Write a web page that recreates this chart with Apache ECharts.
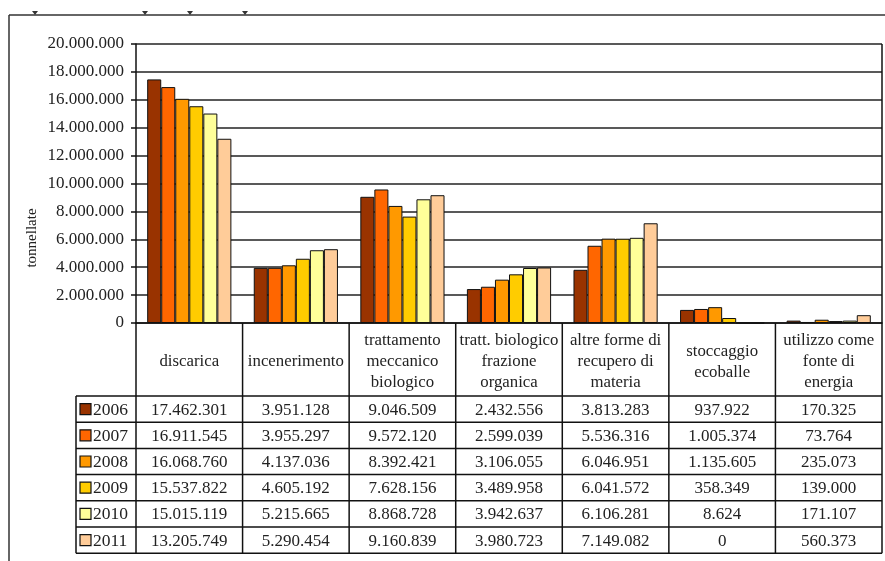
<!DOCTYPE html>
<html>
<head>
<meta charset="utf-8">
<script src="https://cdn.jsdelivr.net/npm/echarts@6/dist/echarts.min.js"></script>
<style>
  html, body { margin: 0; padding: 0; background: #fff; }
  #chart { width: 885px; height: 561px; }
</style>
</head>
<body>
<div id="chart"></div>
<script>
// Rifiuti urbani gestiti per forma di trattamento (tonnellate)
const categories = [
  'discarica',
  'incenerimento',
  'trattamento\nmeccanico\nbiologico',
  'tratt. biologico\nfrazione\norganica',
  'altre forme di\nrecupero di\nmateria',
  'stoccaggio\necoballe',
  'utilizzo come\nfonte di\nenergia'
];
const years = ['2006', '2007', '2008', '2009', '2010', '2011'];
const v2006 = [17462301, 3951128, 9046509, 2432556, 3813283, 937922, 170325];
const v2007 = [16911545, 3955297, 9572120, 2599039, 5536316, 1005374, 73764];
const v2008 = [16068760, 4137036, 8392421, 3106055, 6046951, 1135605, 235073];
const v2009 = [15537822, 4605192, 7628156, 3489958, 6041572, 358349, 139000];
const v2010 = [15015119, 5215665, 8868728, 3942637, 6106281, 8624, 171107];
const v2011 = [13205749, 5290454, 9160839, 3980723, 7149082, 0, 560373];
const yTicks = [0, 2000000, 4000000, 6000000, 8000000, 10000000, 12000000, 14000000, 16000000, 18000000, 20000000];

const seriesValues = [v2006, v2007, v2008, v2009, v2010, v2011];
const colors = ['#993300', '#FF6600', '#FF9900', '#FFCC00', '#FFFF99', '#FFCC99'];

const FONT = '"Liberation Serif", "Times New Roman", serif';
const TXT = '#222';

// layout of plot and data table
const W = 885;
const plotLeft = 136, plotRight = 882, plotTop = 44, plotBottom = 323;
const tableLeft = 76;
const headerBottom = 396;
const rowH = 26.2;

function fmt(v) {
  return String(v).replace(/\B(?=(\d{3})+(?!\d))/g, '.');
}

const chart = echarts.init(document.getElementById('chart'), null, { renderer: 'canvas' });

const option = {
  animation: false,
  backgroundColor: '#fff',
  grid: {
    left: plotLeft,
    right: W - plotRight,
    top: plotTop,
    bottom: 561 - plotBottom,
    containLabel: false
  },
  xAxis: {
    type: 'category',
    data: categories,
    axisLine: { show: true, lineStyle: { color: '#111', width: 1.5 } },
    axisTick: { show: false },
    axisLabel: {
      interval: 0,
      margin: 39,
      verticalAlign: 'middle',
      lineHeight: 21,
      fontFamily: FONT,
      fontSize: 16.8,
      color: TXT
    }
  },
  yAxis: {
    type: 'value',
    min: yTicks[0],
    max: yTicks[yTicks.length - 1],
    interval: yTicks[1] - yTicks[0],
    axisLine: { show: true, lineStyle: { color: '#111', width: 1.5 } },
    axisTick: { show: true, length: 5, lineStyle: { color: '#111', width: 1.5 } },
    axisLabel: {
      margin: 12,
      fontFamily: FONT,
      fontSize: 17,
      color: TXT,
      formatter: fmt
    },
    splitLine: { show: true, lineStyle: { color: '#222', width: 1.5 } }
  },
  series: years.map((y, i) => ({
    name: y,
    type: 'bar',
    data: seriesValues[i],
    barGap: '0%',
    barCategoryGap: '21%',
    itemStyle: { color: colors[i], borderColor: '#111', borderWidth: 1 }
  }))
};

chart.setOption(option);

// data table drawn under the plot
function buildTable() {
  const els = [];
  const lineStyle = { stroke: '#111', lineWidth: 1.5 };
  const nCat = categories.length;
  const tableBottom = headerBottom + rowH * years.length;

  // outer frame of the page section
  els.push({ type: 'line', shape: { x1: 9, y1: 15, x2: 885, y2: 15 }, style: { stroke: '#333', lineWidth: 1.5 } });
  els.push({ type: 'line', shape: { x1: 9, y1: 15, x2: 9, y2: 561 }, style: { stroke: '#333', lineWidth: 1.5 } });
  [35, 145, 190, 245].forEach(x => {
    els.push({ type: 'polygon', shape: { points: [[x - 3, 11], [x + 3, 11], [x, 15]] }, style: { fill: '#333' } });
  });

  // right edge of the plot area
  els.push({ type: 'line', shape: { x1: plotRight, y1: plotTop, x2: plotRight, y2: plotBottom }, style: lineStyle });

  // vertical column separators (category boundaries)
  for (let k = 0; k <= nCat; k++) {
    const x = k === 0 ? plotLeft : (k === nCat ? plotRight :
      (chart.convertToPixel({ xAxisIndex: 0 }, k - 1) + chart.convertToPixel({ xAxisIndex: 0 }, k)) / 2);
    els.push({ type: 'line', shape: { x1: x, y1: plotBottom, x2: x, y2: tableBottom }, style: lineStyle });
  }
  // legend column left edge
  els.push({ type: 'line', shape: { x1: tableLeft, y1: headerBottom, x2: tableLeft, y2: tableBottom }, style: lineStyle });

  // horizontal row lines
  for (let r = 0; r <= years.length; r++) {
    const y = headerBottom + rowH * r;
    els.push({ type: 'line', shape: { x1: tableLeft, y1: y, x2: plotRight, y2: y }, style: lineStyle });
  }

  // rows: swatch, year, values
  years.forEach((yr, r) => {
    const cy = headerBottom + rowH * r + rowH / 2;
    els.push({
      type: 'rect',
      shape: { x: 80, y: cy - 5.5, width: 11, height: 11 },
      style: { fill: colors[r], stroke: '#111', lineWidth: 1.2 }
    });
    els.push({
      type: 'text',
      style: { x: 93, y: cy + 1, text: yr, fontFamily: FONT, fontSize: 17.5, fill: TXT, align: 'left', verticalAlign: 'middle' }
    });
    seriesValues[r].forEach((v, c) => {
      const cx = chart.convertToPixel({ xAxisIndex: 0 }, c);
      els.push({
        type: 'text',
        style: { x: cx, y: cy + 1, text: fmt(v), fontFamily: FONT, fontSize: 17, fill: TXT, align: 'center', verticalAlign: 'middle' }
      });
    });
  });

  // axis title
  els.push({
    type: 'text',
    x: 32, y: 238,
    rotation: Math.PI / 2,
    style: { x: 0, y: 0, text: 'tonnellate', fontFamily: FONT, fontSize: 15, fill: TXT, align: 'center', verticalAlign: 'middle' }
  });

  chart.setOption({ graphic: { elements: els } });
}

buildTable();
</script>
</body>
</html>
